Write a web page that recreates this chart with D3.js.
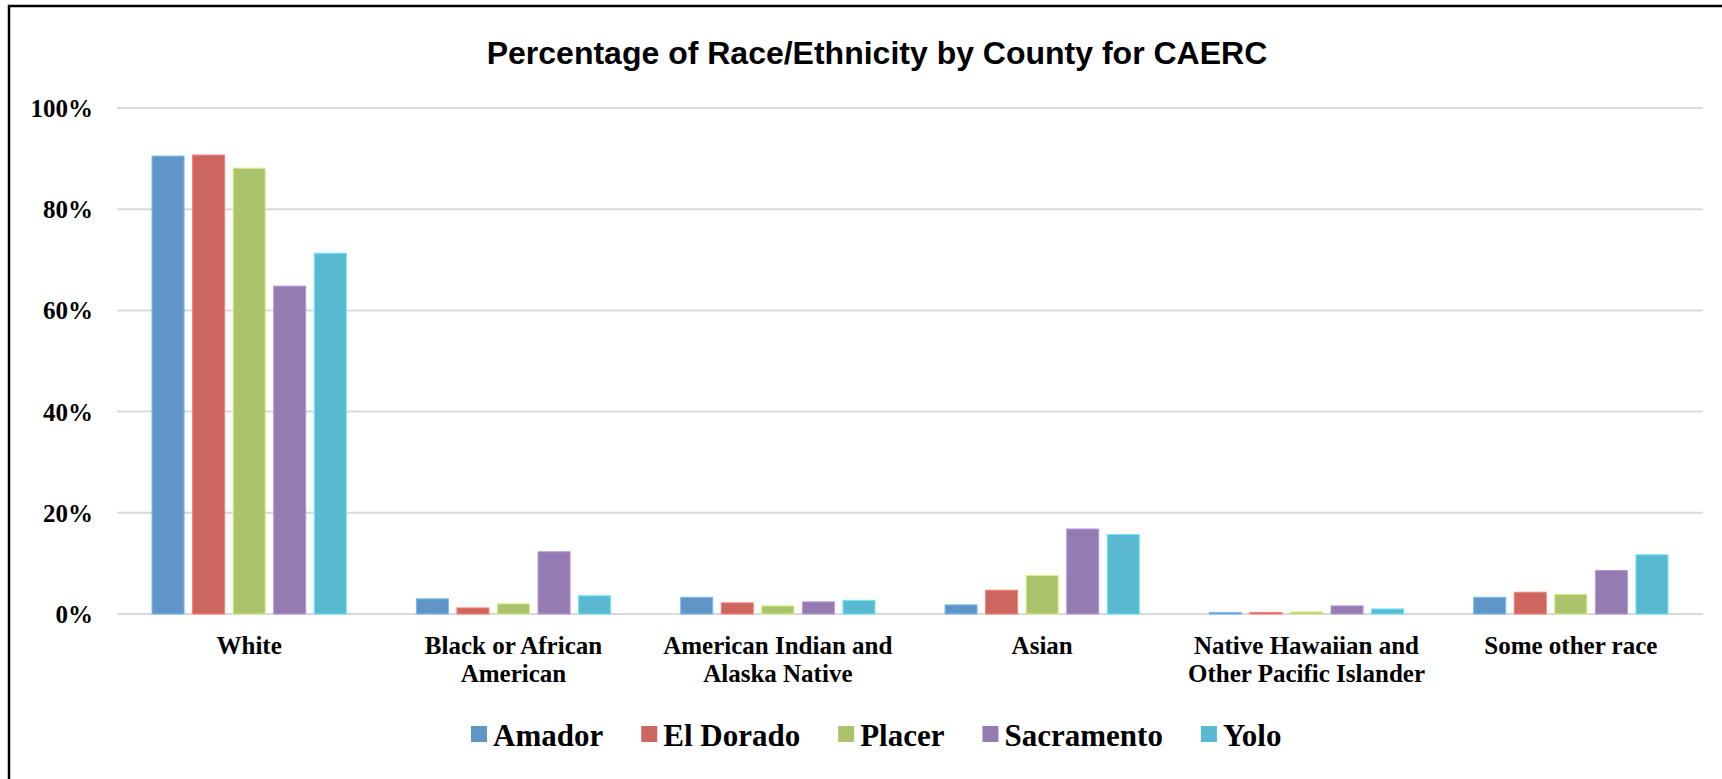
<!DOCTYPE html>
<html>
<head>
<meta charset="utf-8">
<script src="https://cdn.jsdelivr.net/npm/d3@7"></script>
<style>
  html, body { margin: 0; padding: 0; background: #fff; overflow: hidden; }
  svg { display: block; }
  .tick-label, .cat-label, .legend-label { font-family: "Liberation Serif", "Times New Roman", serif; font-weight: bold; fill: #000; }
  .title { font-family: "Liberation Sans", Arial, sans-serif; font-weight: bold; fill: #000; }
</style>
</head>
<body>
<svg id="chart" width="1722" height="779"></svg>
<script>
(function () {
  const categories = ["White", "Black or African American", "American Indian and Alaska Native",
    "Asian", "Native Hawaiian and Other Pacific Islander", "Some other race"];
  const categoryLines = [
    ["White"],
    ["Black or African", "American"],
    ["American Indian and", "Alaska Native"],
    ["Asian"],
    ["Native Hawaiian and", "Other Pacific Islander"],
    ["Some other race"]
  ];
  const counties = ["Amador", "El Dorado", "Placer", "Sacramento", "Yolo"];
  const colors = ["#6096c7", "#cd665f", "#abc46c", "#947bb2", "#58b9d1"];

  // share of population per category, one array per county
  const amador = [0.905, 0.030, 0.033, 0.018, 0.003, 0.033];
  const elDorado = [0.907, 0.012, 0.022, 0.047, 0.003, 0.043];
  const placer = [0.881, 0.020, 0.016, 0.076, 0.004, 0.039];
  const sacramento = [0.648, 0.123, 0.024, 0.168, 0.016, 0.086];
  const yolo = [0.713, 0.036, 0.027, 0.157, 0.010, 0.117];
  const seriesValues = [amador, elDorado, placer, sacramento, yolo];

  const yTicks = [0, 0.2, 0.4, 0.6, 0.8, 1.0];

  const svg = d3.select("#chart");

  // outer frame (runs off the right and bottom edges)
  svg.append("path")
    .attr("d", "M9,779 L9,6 L1722,6")
    .attr("fill", "none")
    .attr("stroke", "#000")
    .attr("stroke-width", 2.5);

  svg.append("text")
    .attr("class", "title")
    .attr("x", 877)
    .attr("y", 64)
    .attr("text-anchor", "middle")
    .attr("font-size", 32)
    .text("Percentage of Race/Ethnicity by County for CAERC");

  const x = d3.scaleBand()
    .domain(categories)
    .range([117, 1703])
    .paddingInner(0.265)
    .paddingOuter(0.1325);

  const xInner = d3.scaleBand()
    .domain(counties)
    .range([0, x.bandwidth()])
    .paddingInner(0.21);

  const y = d3.scaleLinear().domain([0, 1]).range([614, 108]);

  // gridlines
  svg.append("g")
    .selectAll("line")
    .data(yTicks)
    .join("line")
    .attr("x1", 117)
    .attr("x2", 1703)
    .attr("y1", d => y(d))
    .attr("y2", d => y(d))
    .attr("stroke", "#d9d9d9")
    .attr("stroke-width", 2);

  svg.append("g")
    .selectAll("text")
    .data(yTicks)
    .join("text")
    .attr("class", "tick-label")
    .attr("x", 93)
    .attr("y", d => y(d))
    .attr("dy", "0.36em")
    .attr("text-anchor", "end")
    .attr("font-size", 25)
    .text(d => d3.format(".0%")(d));

  // bars
  const groups = svg.append("g")
    .selectAll("g")
    .data(categories)
    .join("g")
    .attr("transform", d => `translate(${x(d)},0)`);

  groups.selectAll("rect")
    .data((d, i) => counties.map((c, j) => ({ county: c, j, value: seriesValues[j][i] })))
    .join("rect")
    .attr("x", d => xInner(d.county))
    .attr("y", d => y(d.value))
    .attr("width", xInner.bandwidth())
    .attr("height", d => y(0) - y(d.value))
    .attr("fill", d => colors[d.j])
    .attr("stroke", d => d3.color(colors[d.j]).brighter(0.6))
    .attr("stroke-width", 1);

  // category labels
  const labels = svg.append("g")
    .selectAll("text")
    .data(categories)
    .join("text")
    .attr("class", "cat-label")
    .attr("text-anchor", "middle")
    .attr("font-size", 25)
    .attr("x", d => x(d) + x.bandwidth() / 2)
    .attr("y", 654);

  labels.selectAll("tspan")
    .data((d, i) => categoryLines[i])
    .join("tspan")
    .attr("x", function () { return this.parentNode.getAttribute("x"); })
    .attr("dy", (d, i) => i === 0 ? 0 : 28)
    .text(d => d);

  // legend
  const legend = svg.append("g");
  let cursor = 471;
  counties.forEach((name, i) => {
    legend.append("rect")
      .attr("x", cursor)
      .attr("y", 726)
      .attr("width", 16)
      .attr("height", 16)
      .attr("fill", colors[i]);
    const t = legend.append("text")
      .attr("class", "legend-label")
      .attr("x", cursor + 22)
      .attr("y", 746)
      .attr("font-size", 31)
      .text(name);
    cursor += 22 + t.node().getComputedTextLength() + 38;
  });
})();
</script>
</body>
</html>
